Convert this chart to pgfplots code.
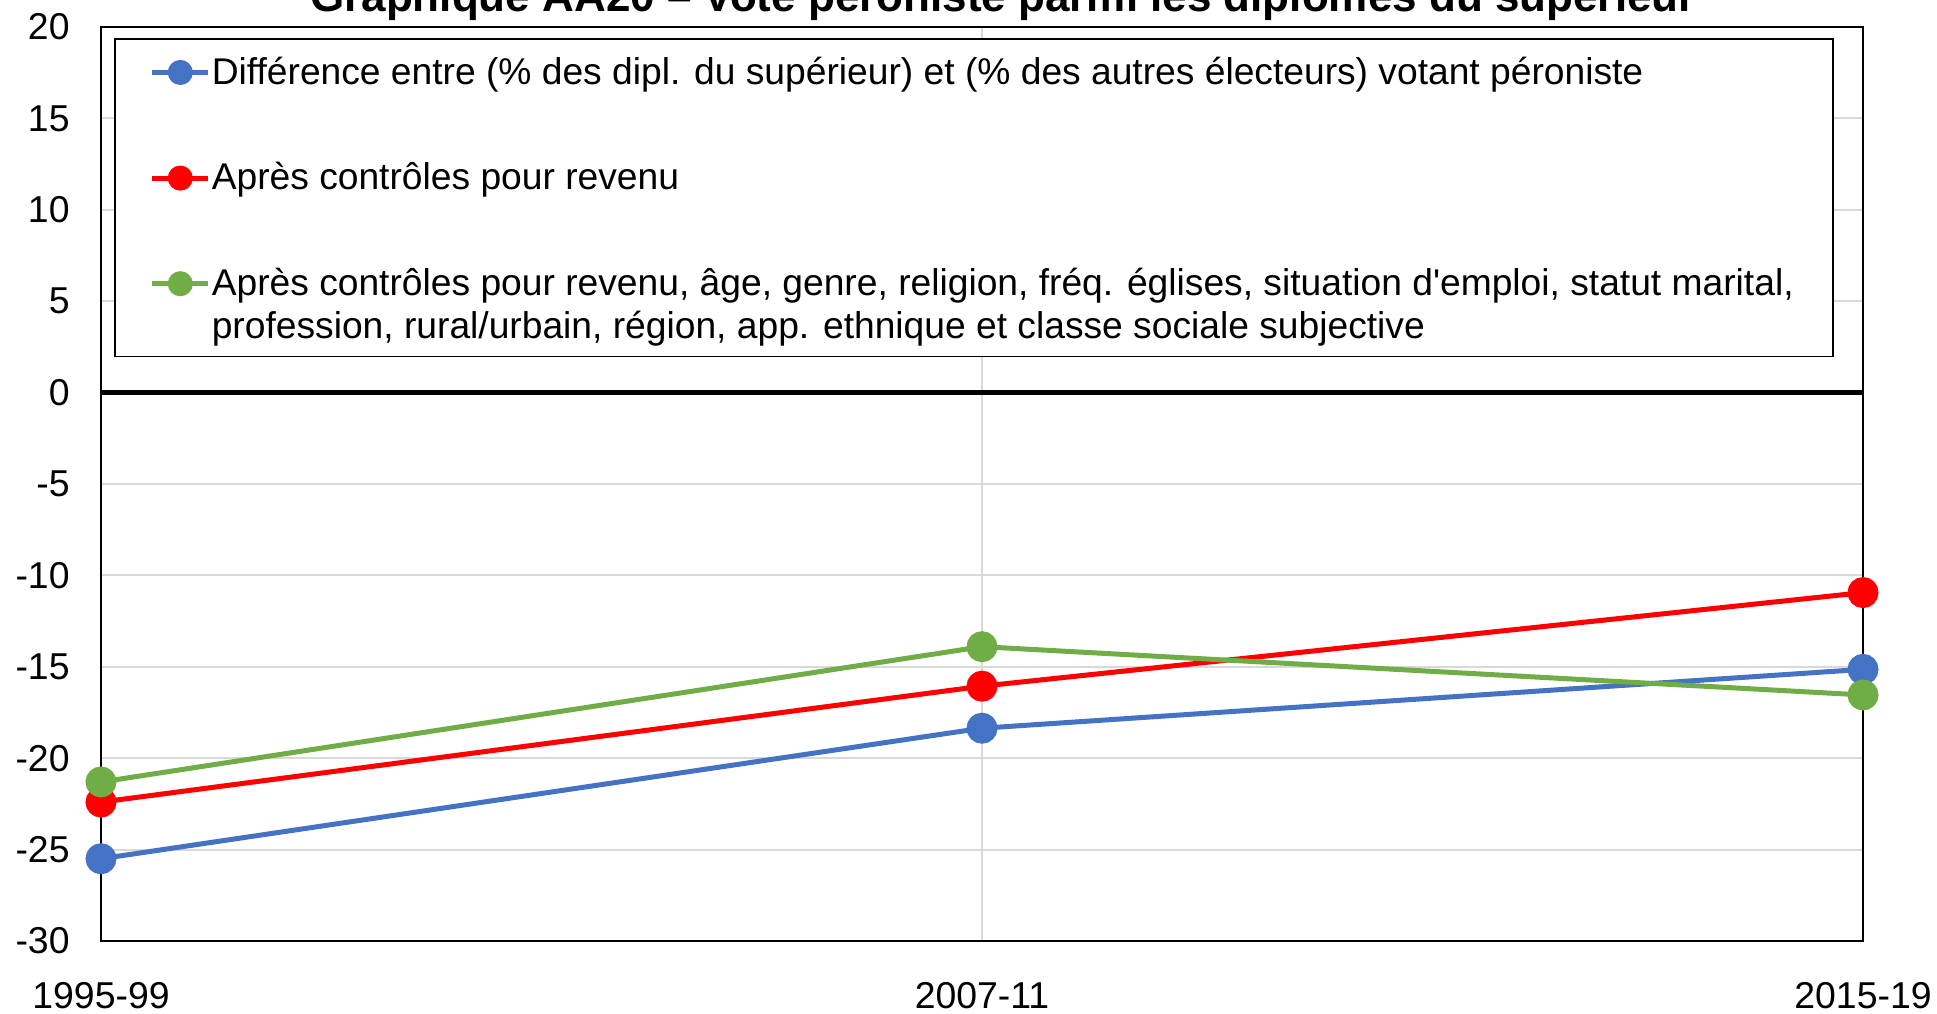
\documentclass[border=0pt]{standalone}
\usepackage{pgfplots}
\pgfplotsset{compat=1.18}
\usepackage{fontspec}
\setmainfont{Liberation Sans}
\definecolor{cblue}{HTML}{4472C4}
\definecolor{cred}{HTML}{FF0000}
\definecolor{cgreen}{HTML}{70AD47}
\definecolor{cgrid}{HTML}{D9D9D9}
\begin{document}
\begin{tikzpicture}
\useasboundingbox (-50.5pt,-36pt) rectangle (918pt,470.5pt);
\begin{axis}[
  at={(0,0)}, anchor=south west,
  scale only axis, width=881pt, height=457pt,
  xmin=0, xmax=2, ymin=-30, ymax=20,
  xtick={0,1,2}, xticklabels={1995-99,2007-11,2015-19},
  ytick={-30,-25,...,20},
  major tick length=0pt,
  clip=false,
  axis line style={black, line width=1pt},
  xmajorgrids, ymajorgrids,
  major grid style={cgrid, line width=1pt},
  extra y ticks={0}, extra y tick labels={},
  extra y tick style={ymajorgrids=true, major grid style={black, line width=2.5pt}},
  /pgf/number format/assume math mode=true,
  tick label style={font=\fontsize{18.7}{22}\selectfont},
  yticklabel style={anchor=east, inner sep=0pt, xshift=-15.5pt},
  xticklabel style={anchor=north, inner sep=0pt, yshift=-20.5pt},
  legend style={at={(rel axis cs:0,1)}, anchor=north west, xshift=6.5pt, yshift=-5.5pt,
    draw=black, line width=0.8pt, fill=white,
    inner xsep=17.5pt, inner ysep=5.5pt, row sep=32.2pt, column sep=-1.5pt,
    font=\fontsize{18.6}{21.6}\selectfont,
    cells={anchor=base west, inner sep=0pt}},
  legend image code/.code={\draw[mark repeat=2, mark phase=2, mark size=5pt] plot coordinates {(0pt,5.8pt) (14pt,5.8pt) (28pt,5.8pt)};},
]
\addplot[cblue, line width=2.5pt, mark=*, mark size=6.5pt, mark options={solid}] coordinates {(0,-25.5) (1,-18.36) (2,-15.14)};
\addlegendentry{\begin{tabular}[b]{@{}l@{}}Différence entre (\% des dipl. du supérieur) et (\% des autres électeurs) votant péroniste\end{tabular}}
\addplot[cred, line width=2.5pt, mark=*, mark size=6.5pt, mark options={solid}] coordinates {(0,-22.4) (1,-16.06) (2,-10.94)};
\addlegendentry{\begin{tabular}[b]{@{}l@{}}Après contrôles pour revenu\end{tabular}}
\addplot[cgreen, line width=2.5pt, mark=*, mark size=6.5pt, mark options={solid}, legend image post style={yshift=21.6pt}] coordinates {(0,-21.3) (1,-13.9) (2,-16.54)};
\addlegendentry{\begin{tabular}[b]{@{}l@{}}Après contrôles pour revenu, âge, genre, religion, fréq. églises, situation d\textquotesingle emploi, statut marital,\\profession, rural/urbain, région, app. ethnique et classe sociale subjective\end{tabular}}
\node[anchor=base, font=\bfseries\fontsize{22}{26}\selectfont] at ([xshift=451pt, yshift=8pt]rel axis cs:0,1) {Graphique AA20 – Vote péroniste parmi les diplômés du supérieur};
\end{axis}
\end{tikzpicture}
\end{document}
